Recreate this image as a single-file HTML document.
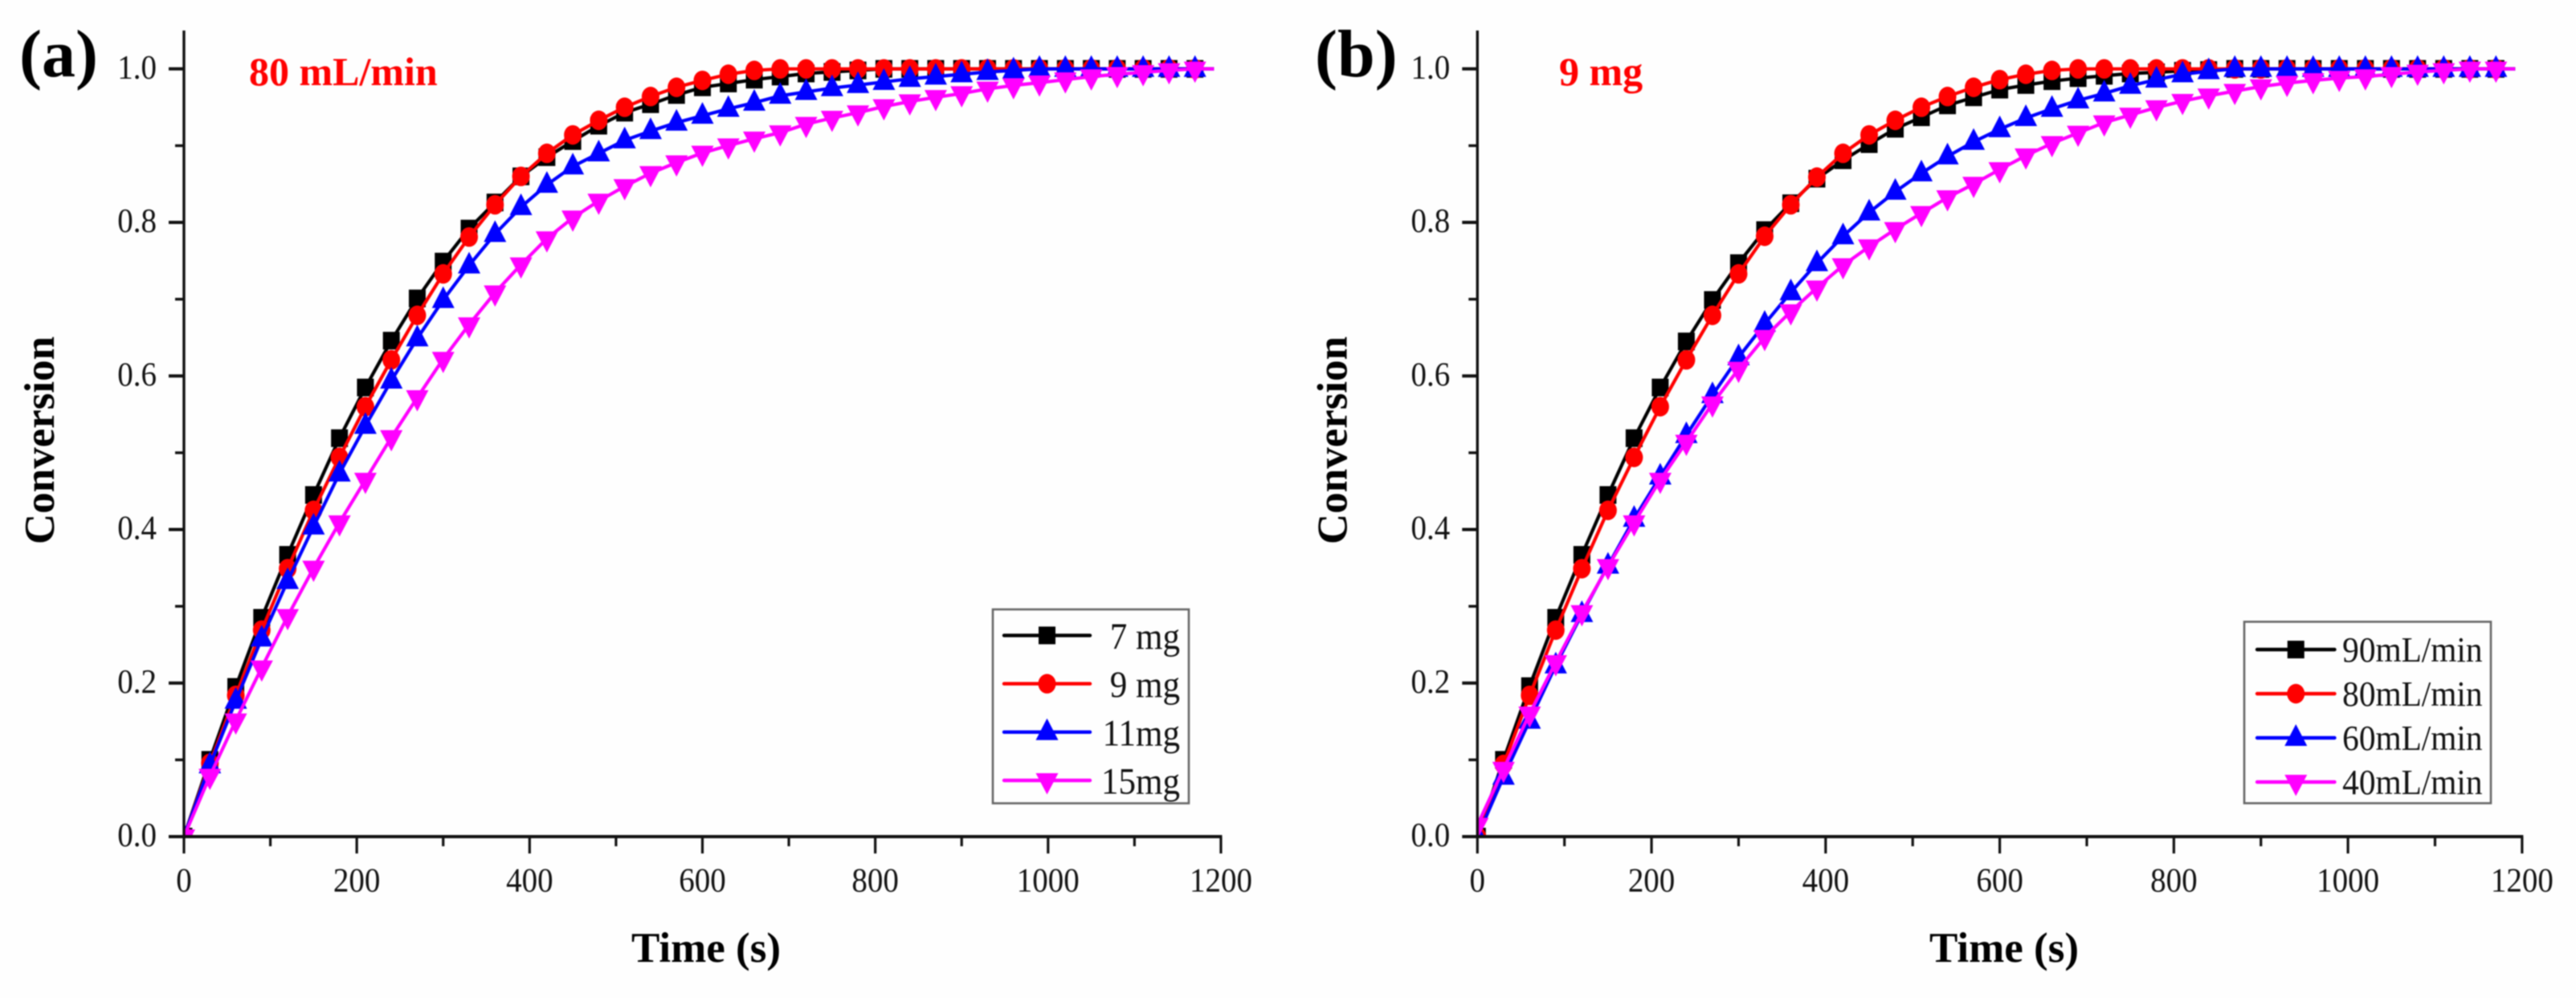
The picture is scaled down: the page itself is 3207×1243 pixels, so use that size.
<!DOCTYPE html>
<html lang="en">
<head>
<meta charset="utf-8">
<title>Conversion vs time</title>
<style>
html,body{margin:0;padding:0;background:#fefefe;width:3207px;height:1243px;overflow:hidden}
svg{display:block;filter:blur(0.7px)}
text{font-family:"Liberation Serif",serif}
</style>
</head>
<body>
<svg id="figure" xmlns="http://www.w3.org/2000/svg" width="3207" height="1243" viewBox="0 0 3207 1243"></svg>
<script>
const timesSec = [0,30,60,90,120,150,180,210,240,270,300,330,360,390,420,450,480,510,540,570,600,630,660,690,720,750,780,810,840,870,900,930,960,990,1020,1050,1080,1110,1140,1170];
const lineEndSec = 1192;

const panelA7mg = [0,.10,.195,.285,.367,.445,.519,.585,.646,.701,.749,.792,.826,.86,.885,.906,.926,.943,.954,.966,.976,.981,.986,.99,.994,.996,.998,1,1,1,1,1,1,1,1,1,1,1,1,1];
const panelA9mg = [0,.0955,.184,.269,.349,.425,.494,.56,.621,.679,.733,.781,.823,.86,.89,.914,.933,.95,.964,.976,.985,.993,.998,1,1,1,1,1,1,1,1,1,1,1,1,1,1,1,1,1];
const panelA11mg = [0,.093,.177,.258,.333,.404,.473,.535,.594,.649,.699,.744,.785,.82,.849,.873,.89,.907,.919,.93,.939,.948,.956,.965,.97,.975,.979,.983,.987,.99,.993,.996,.998,1,1,1,1,1,1,1];
const panelA15mg = [0,.079,.151,.22,.287,.35,.409,.4645,.52,.572,.622,.667,.7085,.745,.779,.806,.828,.847,.864,.878,.8905,.90,.909,.917,.928,.936,.943,.951,.9575,.963,.968,.974,.9785,.982,.986,.99,.993,.9955,.998,1];

const panelB90 = [0,.10,.196,.285,.367,.445,.519,.585,.645,.699,.747,.79,.825,.857,.881,.902,.922,.937,.9525,.963,.973,.979,.984,.988,.991,.994,.9955,.9975,.9985,1,1,1,1,1,1,1,1,1,1,1];
const panelB80 = [0,.094,.184,.269,.349,.425,.494,.56,.621,.679,.733,.782,.823,.859,.89,.914,.933,.95,.964,.976,.986,.993,.998,1,1,1,1,1,1,1,1,1,1,1,1,1,1,1,1,1];
const panelB60 = [0,.078,.151,.223,.29,.353,.414,.469,.523,.575,.6245,.668,.709,.747,.782,.813,.84,.864,.886,.905,.9215,.936,.948,.959,.968,.978,.986,.993,.997,1,1,1,1,1,1,1,1,1,1,1];
const panelB40 = [.015,.088,.16,.227,.292,.352,.409,.4645,.514,.564,.609,.6505,.684,.715,.744,.7685,.791,.812,.8325,.85,.869,.887,.903,.9165,.93,.94,.9497,.958,.965,.971,.977,.9815,.985,.988,.99,.993,.996,.998,1,1];

const xMajorTicks = [0,200,400,600,800,1000,1200];
const xMinorTicks = [100,300,500,700,900,1100];
const yMajorTicks = [0,0.2,0.4,0.6,0.8,1.0];
const yMinorTicks = [0.1,0.3,0.5,0.7,0.9];
const legendLabelsA = ['7 mg','9 mg','11mg','15mg'];
const legendLabelsB = ['90mL/min','80mL/min','60mL/min','40mL/min'];
const seriesColors = ['#000000','#ff0000','#0000ff','#ff00ff'];
const seriesShapes = ['square','circle','up','down'];

const NS = 'http://www.w3.org/2000/svg';
const root = document.getElementById('figure');

function make(tag, attrs, parent) {
  const el = document.createElementNS(NS, tag);
  for (const k in attrs) el.setAttribute(k, attrs[k]);
  parent.appendChild(el);
  return el;
}

function label(parent, name, str, x, y, size, opts) {
  const o = opts || {};
  const el = make('text', {
    transform: 'translate(' + x + ',' + y + ') ' + (o.rotate ? 'rotate(' + o.rotate + ') ' : '') + 'scale(1,' + (o.sy || 1) + ')',
    'font-size': size,
    'font-weight': o.bold ? 'bold' : 'normal',
    'text-anchor': o.anchor || 'start',
    fill: o.fill || '#111111'
  }, parent);
  
  
  el.textContent = str;
  return el;
}

function marker(parent, shape, color, cx, cy, name) {
  let el;
  if (shape === 'square') {
    el = make('rect', {x: cx - 10.5, y: cy - 11, width: 21, height: 22, fill: color}, parent);
  } else if (shape === 'circle') {
    el = make('ellipse', {cx: cx, cy: cy, rx: 11, ry: 12.2, fill: color}, parent);
  } else if (shape === 'up') {
    el = make('polygon', {points: (cx - 14) + ',' + (cy + 10) + ' ' + (cx + 14) + ',' + (cy + 10) + ' ' + cx + ',' + (cy - 17), fill: color}, parent);
  } else {
    el = make('polygon', {points: (cx - 14) + ',' + (cy - 9) + ' ' + (cx + 14) + ',' + (cy - 9) + ' ' + cx + ',' + (cy + 17.5), fill: color}, parent);
  }
  
  
  return el;
}

function drawPanel(cfg) {
  const xScale = function (t) { return cfg.x0 + cfg.pxPerSec * t; };
  const yScale = function (v) { return 1042 - 956.2 * v; };
  const g = make('g', {}, root);
  
  

  const clip = make('clipPath', {id: cfg.id + '-clip'}, g);
  make('rect', {x: xScale(0), y: yScale(1.05), width: xScale(1200) - xScale(0), height: yScale(0) - yScale(1.05)}, clip);

  const seriesG = make('g', {'clip-path': 'url(#' + cfg.id + '-clip)'}, g);
  
  

  cfg.series.forEach(function (vals, s) {
    const sg = make('g', {}, seriesG);
    
    
    const pts = vals.map(function (v, i) { return xScale(timesSec[i]).toFixed(1) + ',' + yScale(v).toFixed(1); });
    pts.push(xScale(lineEndSec).toFixed(1) + ',' + yScale(vals[vals.length - 1]).toFixed(1));
    const line = make('polyline', {points: pts.join(' '), fill: 'none', stroke: seriesColors[s], 'stroke-width': 4.2, 'stroke-linejoin': 'round'}, sg);
    
    
    vals.forEach(function (v, i) {
      marker(sg, seriesShapes[s], seriesColors[s], xScale(timesSec[i]), yScale(v), 'point-' + cfg.names[s]);
    });
  });

  const axisG = make('g', {stroke: '#111111', fill: 'none'}, g);
  
  

  const yAxis = make('line', {x1: xScale(0), x2: xScale(0), y1: yScale(1.05), y2: yScale(0), 'stroke-width': 3.4}, axisG);
  
  
  const xAxis = make('line', {x1: xScale(0), x2: xScale(1200) + 1.5, y1: yScale(0), y2: yScale(0), 'stroke-width': 4}, axisG);
  
  

  xMajorTicks.forEach(function (t) {
    const tick = make('line', {x1: xScale(t), x2: xScale(t), y1: yScale(0), y2: 1063, 'stroke-width': 3.2}, axisG);
    
    
    label(g, 'x-tick-label', String(t), xScale(t), 1110.5, 39, {anchor: 'middle', sy: 1.08});
  });
  xMinorTicks.forEach(function (t) {
    const tick = make('line', {x1: xScale(t), x2: xScale(t), y1: yScale(0), y2: 1054, 'stroke-width': 3.2}, axisG);
    
    
  });
  yMajorTicks.forEach(function (v) {
    const tick = make('line', {x1: xScale(0) - 19, x2: xScale(0), y1: yScale(v), y2: yScale(v), 'stroke-width': 4}, axisG);
    
    
    label(g, 'y-tick-label', v.toFixed(1), xScale(0) - 34, yScale(v) + 12, 39, {anchor: 'end', sy: 1.08});
  });
  yMinorTicks.forEach(function (v) {
    const tick = make('line', {x1: xScale(0) - 11, x2: xScale(0), y1: yScale(v), y2: yScale(v), 'stroke-width': 3.4}, axisG);
    
    
  });

  label(g, 'y-axis-title', 'Conversion', cfg.yTitleX, 678, 53, {bold: true, rotate: -90, fill: '#000000'});
  label(g, 'x-axis-title', 'Time (s)', cfg.xTitleX, 1198, 53, {bold: true, fill: '#000000'});
  label(g, 'panel-letter', cfg.letter, cfg.letterX, 95, 84, {bold: true, fill: '#000000'});
  label(g, 'condition-label', cfg.note, cfg.noteX, 106, 50, {bold: true, fill: '#ff0000'});

  const L = cfg.legend;
  const lg = make('g', {}, g);
  
  
  const box = make('rect', {x: L.x, y: L.y, width: L.w, height: L.h, fill: 'none', stroke: '#666666', 'stroke-width': 2.6}, lg);
  
  
  L.labels.forEach(function (txt, s) {
    const ry = L.rowY + L.rowH * s;
    const entry = make('g', {}, lg);
    
    
    const sample = make('line', {x1: L.lineX1, x2: L.lineX2, y1: ry, y2: ry, stroke: seriesColors[s], 'stroke-width': 4.4, 'stroke-linecap': 'round'}, entry);
    
    
    marker(entry, seriesShapes[s], seriesColors[s], (L.lineX1 + L.lineX2) / 2, ry, 'legend-marker');
    label(entry, 'legend-label', txt, L.textX, ry + L.textDy, L.size, {anchor: 'end', sy: 1.08});
  });
}

drawPanel({
  id: 'panel-a', letter: '(a)', letterX: 24, note: '80 mL/min', noteX: 310,
  x0: 229, pxPerSec: 1.0758, yTitleX: 67, xTitleX: 786,
  series: [panelA7mg, panelA9mg, panelA11mg, panelA15mg],
  names: ['7mg', '9mg', '11mg', '15mg'],
  legend: {x: 1236, y: 759, w: 244, h: 241.5, labels: legendLabelsA, rowY: 791.4, rowH: 60.2, lineX1: 1250, lineX2: 1357, textX: 1469, textDy: 16.5, size: 43}
});
drawPanel({
  id: 'panel-b', letter: '(b)', letterX: 1637, note: '9 mg', noteX: 1941,
  x0: 1839.3, pxPerSec: 1.0838, yTitleX: 1676.5, xTitleX: 2402,
  series: [panelB90, panelB80, panelB60, panelB40],
  names: ['90mL-min', '80mL-min', '60mL-min', '40mL-min'],
  legend: {x: 2794, y: 774.4, w: 307, h: 226, labels: legendLabelsB, rowY: 809, rowH: 55, lineX1: 2810, lineX2: 2906.5, textX: 3090.5, textDy: 15, size: 41.3}
});
</script>
</body>
</html>
